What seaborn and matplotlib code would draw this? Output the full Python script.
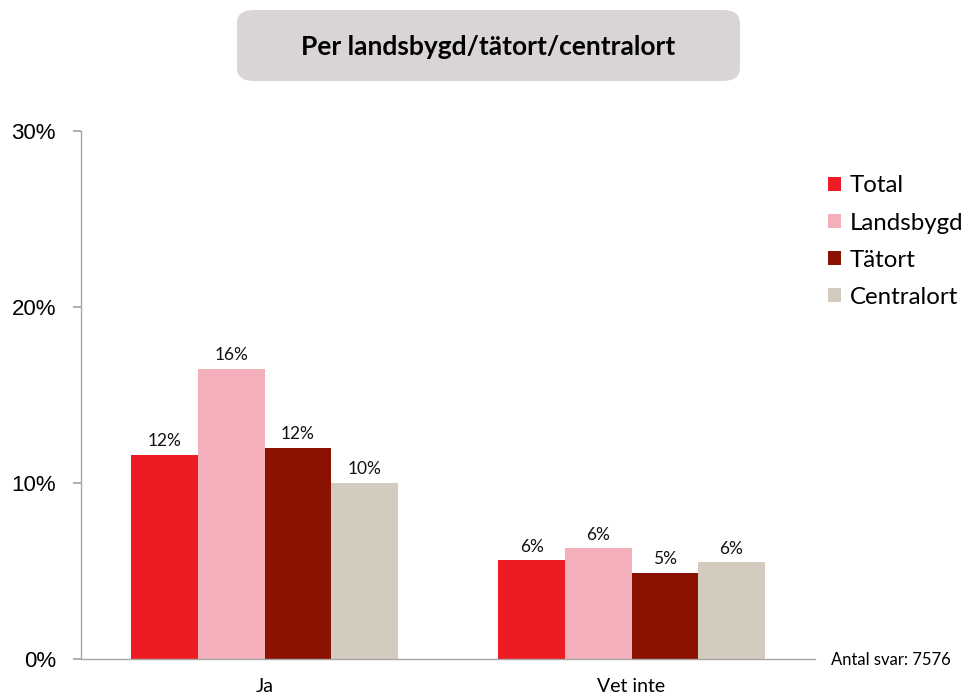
import numpy as np
import pandas as pd
import matplotlib
matplotlib.use("Agg")
import matplotlib.pyplot as plt
import seaborn as sns
from matplotlib.patches import FancyBboxPatch

categories = ["Ja", "Vet inte"]
groups = ["Total", "Landsbygd", "Tätort", "Centralort"]
values = {
    "Total": [11.6, 5.6],
    "Landsbygd": [16.5, 6.3],
    "Tätort": [12.0, 4.9],
    "Centralort": [10.0, 5.5],
}
colors = ["#ED1C24", "#F4B0BA", "#8B1100", "#D3CBBD"]
yticks = [0, 10, 20, 30]
title = "Per landsbygd/tätort/centralort"
note = "Antal svar: 7576"

rows = []
for g in groups:
    for c, v in zip(categories, values[g]):
        rows.append({"cat": c, "group": g, "value": v})
df = pd.DataFrame(rows)

sns.set_theme(style="white")
plt.rcParams["font.family"] = ["Lato", "DejaVu Sans"]
plt.rcParams["text.color"] = "black"
plt.rcParams["xtick.labelcolor"] = "black"
plt.rcParams["ytick.labelcolor"] = "black"

fig = plt.figure(figsize=(9.69, 6.96), dpi=100)
ax = fig.add_axes([0.0836, 0.0532, 0.7575, 0.7586])

sns.barplot(data=df, x="cat", y="value", hue="group", hue_order=groups,
            palette=colors, width=0.725, gap=0, saturation=1, ax=ax,
            errorbar=None, linewidth=0)

for cont in ax.containers:
    ax.bar_label(cont, labels=[f"{v:.0f}%" for v in cont.datavalues],
                 padding=4, fontsize=12.5, color="#111111")

ax.set_xlim(-0.5, 1.5)
ax.set_ylim(0, 30)
ax.set_yticks(yticks)
ax.set_yticklabels([f"{t}%" for t in yticks], family="Liberation Sans", fontsize=16)
ax.set_xlabel("")
ax.set_ylabel("")
ax.tick_params(axis="x", which="major", length=0, labelsize=14, pad=14)
ax.set_xticks([-0.5, 0.5, 1.5], minor=True)
ax.tick_params(axis="x", which="minor", length=6, color="#A6A6A6", direction="out")
ax.tick_params(axis="y", length=6, color="#A6A6A6", direction="out", left=True, pad=12)
for s in ["top", "right"]:
    ax.spines[s].set_visible(False)
for s in ["left", "bottom"]:
    ax.spines[s].set_color("#A6A6A6")
    ax.spines[s].set_linewidth(1)

leg = ax.legend(loc="upper left", bbox_to_anchor=(1.004, 0.934), frameon=False,
                fontsize=17.3, handlelength=0.55, handleheight=0.55,
                handletextpad=0.38, labelspacing=0.67, borderaxespad=0)

box = FancyBboxPatch((0.2446, 0.8836), 0.519, 0.102, boxstyle="round,pad=0,rounding_size=0.018",
                     transform=fig.transFigure, facecolor="#D9D5D4", edgecolor="none")
fig.patches.append(box)
fig.text(0.504, 0.933, title, ha="center", va="center", fontsize=19, fontweight="bold")
fig.text(0.858, 0.052, note, ha="left", va="center", fontsize=12)

fig.savefig("out.png", dpi=100)
